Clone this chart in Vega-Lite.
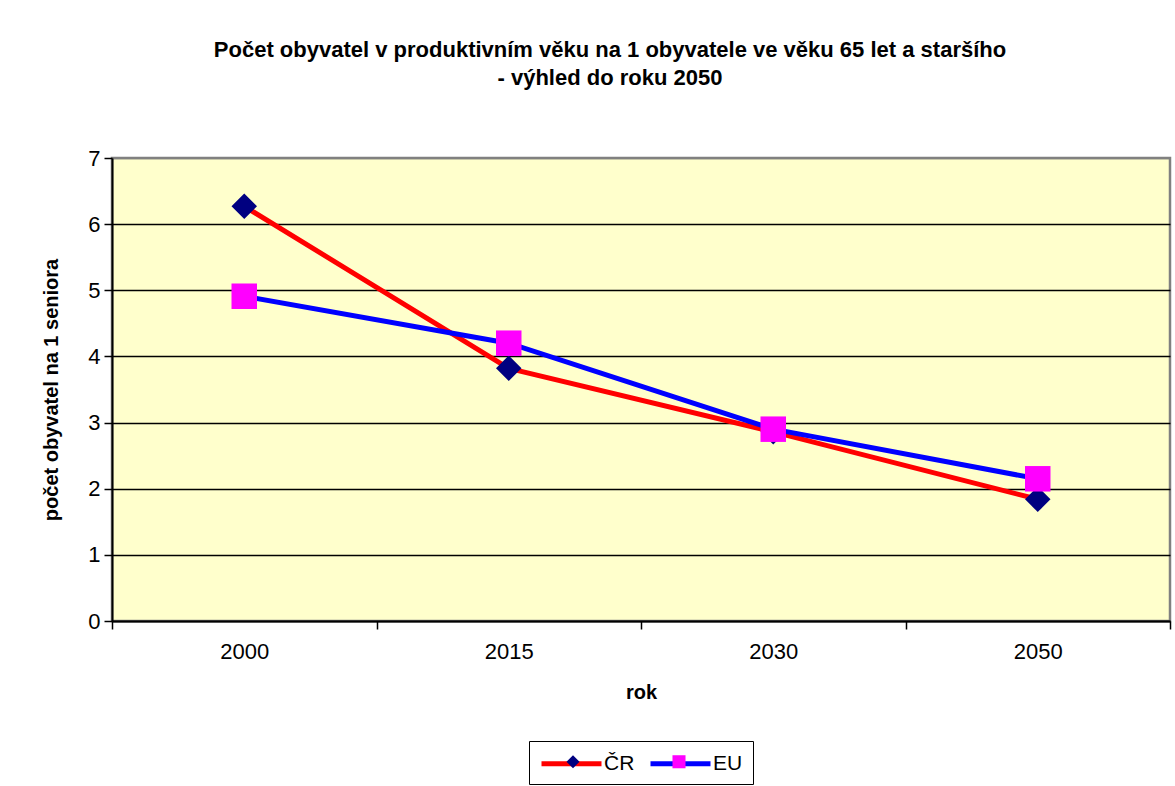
{
  "$schema": "https://vega.github.io/schema/vega-lite/v6.json",
  "width": 1058,
  "height": 463,
  "autosize": {"type": "none"},
  "padding": {"left": 112, "top": 158, "right": 5, "bottom": 165},
  "background": "white",
  "title": {
    "text": ["Počet obyvatel v produktivním věku na 1 obyvatele ve věku 65 let a staršího", "- výhled do roku 2050"],
    "font": "Liberation Sans",
    "fontSize": 22,
    "fontWeight": "bold",
    "color": "black",
    "anchor": "middle",
    "dx": -31,
    "offset": 57,
    "lineHeight": 28
  },
  "config": {
    "view": {"fill": "#FFFFCC", "stroke": "#808080", "strokeWidth": 2.5},
    "font": "Liberation Sans"
  },
  "data": {
    "values": [
      {"rok": "2000", "serie": "ČR", "znacka": "ČR", "hodnota": 6.27},
      {"rok": "2015", "serie": "ČR", "znacka": "ČR", "hodnota": 3.82},
      {"rok": "2030", "serie": "ČR", "znacka": "ČR", "hodnota": 2.86},
      {"rok": "2050", "serie": "ČR", "znacka": "ČR", "hodnota": 1.84},
      {"rok": "2000", "serie": "EU", "znacka": "EU", "hodnota": 4.91},
      {"rok": "2015", "serie": "EU", "znacka": "EU", "hodnota": 4.20},
      {"rok": "2030", "serie": "EU", "znacka": "EU", "hodnota": 2.90},
      {"rok": "2050", "serie": "EU", "znacka": "EU", "hodnota": 2.15}
    ]
  },
  "encoding": {
    "x": {
      "field": "rok",
      "type": "ordinal",
      "scale": {"type": "band", "paddingInner": 0, "paddingOuter": 0},
      "axis": {
        "title": "rok",
        "titleFont": "Liberation Sans",
        "titleFontSize": 20,
        "titleFontWeight": "bold",
        "titleColor": "black",
        "titlePadding": 20,
        "labelAngle": 0,
        "labelFont": "Liberation Sans",
        "labelFontSize": 22,
        "labelColor": "black",
        "labelPadding": 12,
        "tickBand": "extent",
        "tickSize": 8,
        "tickColor": "black",
        "tickWidth": 1.5,
        "domainColor": "black",
        "domainWidth": 2,
        "grid": false
      }
    },
    "y": {
      "field": "hodnota",
      "type": "quantitative",
      "scale": {"domain": [0, 7], "nice": false},
      "axis": {
        "title": "počet obyvatel na 1 seniora",
        "titleFont": "Liberation Sans",
        "titleFontSize": 20,
        "titleFontWeight": "bold",
        "titleColor": "black",
        "titlePadding": 26,
        "values": [0, 1, 2, 3, 4, 5, 6, 7],
        "labelFont": "Liberation Sans",
        "labelFontSize": 22,
        "labelColor": "black",
        "labelPadding": 4,
        "tickSize": 8,
        "tickColor": "black",
        "tickWidth": 1.5,
        "domainColor": "black",
        "domainWidth": 2,
        "grid": true,
        "gridColor": {"condition": {"test": "datum.value == 7", "value": "#808080"}, "value": "black"},
        "gridWidth": 1.5
      }
    }
  },
  "layer": [
    {
      "mark": {"type": "line", "strokeWidth": 5},
      "encoding": {
        "color": {
          "field": "serie",
          "type": "nominal",
          "sort": ["ČR", "EU"],
          "scale": {"range": ["#FF0000", "#0000FF"]},
          "legend": {
            "title": null,
            "orient": "none",
            "legendX": 417,
            "legendY": 583,
            "direction": "horizontal",
            "strokeColor": "black",
            "fillColor": "white",
            "padding": 10,
            "symbolType": "M-1,0H5",
            "symbolStrokeWidth": 5,
            "symbolSize": 400,
            "labelFont": "Liberation Sans",
            "labelFontSize": 21,
            "labelColor": "black",
            "labelOffset": 40,
            "columnPadding": 5
          }
        }
      }
    },
    {
      "mark": {"type": "point", "filled": true, "size": 650, "opacity": 1},
      "encoding": {
        "fill": {
          "field": "znacka",
          "type": "nominal",
          "scale": {"domain": ["ČR", "EU"], "range": ["#000080", "#FF00FF"]},
          "legend": {
            "title": null,
            "orient": "none",
            "legendX": 440.5,
            "legendY": 583,
            "direction": "horizontal",
            "padding": 10,
            "symbolSize": 170,
            "symbolOpacity": 1,
            "labelFont": "Liberation Sans",
            "labelFontSize": 21,
            "labelOpacity": 0,
            "labelOffset": 49,
            "columnPadding": 5
          }
        },
        "shape": {
          "field": "znacka",
          "type": "nominal",
          "scale": {"domain": ["ČR", "EU"], "range": ["diamond", "square"]},
          "legend": {
            "title": null,
            "orient": "none",
            "legendX": 440.5,
            "legendY": 583,
            "direction": "horizontal",
            "padding": 10,
            "symbolSize": 170,
            "symbolOpacity": 1,
            "labelFont": "Liberation Sans",
            "labelFontSize": 21,
            "labelOpacity": 0,
            "labelOffset": 49,
            "columnPadding": 5
          }
        }
      }
    }
  ]
}
